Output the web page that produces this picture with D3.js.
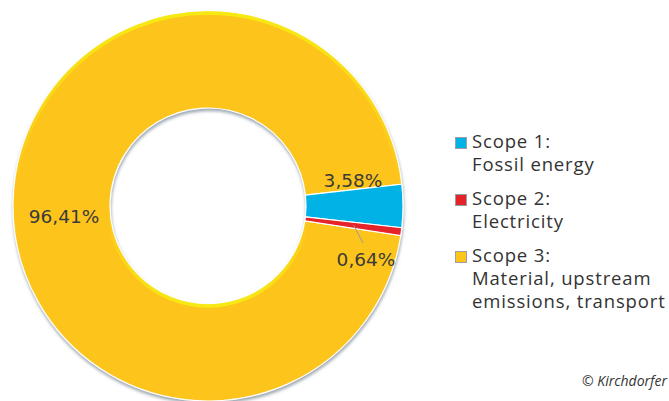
<!DOCTYPE html>
<html><head><meta charset="utf-8">
<script src="https://cdn.jsdelivr.net/npm/d3@7"></script>
<style>body{margin:0;background:#fff}svg{display:block}</style>
</head><body>
<svg id="c" width="669" height="401"></svg>
<script>
const categories = ["Scope 1: Fossil energy", "Scope 2: Electricity", "Scope 3: Material, upstream emissions, transport"];
const values = [3.58, 0.64, 96.41];
const valueLabels = ["3,58%", "0,64%", "96,41%"];
const legendLines = [["Scope 1:", "Fossil energy"], ["Scope 2:", "Electricity"], ["Scope 3:", "Material, upstream", "emissions, transport"]];
const colors = ["#00b2e6", "#e4232b", "#fdc41a"];

const svg = d3.select("#c");
const cx = 208, cy = 206, rOut = 195, rIn = 98;
const defs = svg.append("defs");
const f = defs.append("filter").attr("id","sh").attr("x","-10%").attr("y","-10%").attr("width","120%").attr("height","120%");
f.append("feDropShadow").attr("dx",0.5).attr("dy",2.5).attr("stdDeviation",1.6).attr("flood-color","#7d8a99").attr("flood-opacity",0.75);
const g1 = defs.append("linearGradient").attr("id","hiOut").attr("x1",0).attr("y1",0).attr("x2",0).attr("y2",1);
g1.append("stop").attr("offset","0%").attr("stop-color","#f6ea12").attr("stop-opacity",1);
g1.append("stop").attr("offset","45%").attr("stop-color","#f6ea12").attr("stop-opacity",0);
const g2 = defs.append("linearGradient").attr("id","hiIn").attr("x1",0).attr("y1",0).attr("x2",0).attr("y2",1);
g2.append("stop").attr("offset","55%").attr("stop-color","#f6ea12").attr("stop-opacity",0);
g2.append("stop").attr("offset","100%").attr("stop-color","#f6ea12").attr("stop-opacity",1);

const start = (90 - 6.4) * Math.PI / 180;
const pie = d3.pie().sort(null).startAngle(start).endAngle(start + 2 * Math.PI);
const arcs = pie(values);
const arc = d3.arc().innerRadius(rIn).outerRadius(rOut);

const g = svg.append("g").attr("transform", `translate(${cx},${cy})`);
const ring = g.append("g").attr("filter","url(#sh)");
ring.selectAll("path.s").data(arcs).enter().append("path").attr("class","s")
  .attr("d", arc).attr("fill", (d,i)=>colors[i]).attr("stroke","#fff").attr("stroke-width",1.2);
g.append("circle").attr("r", rOut - 2).attr("fill","none").attr("stroke","url(#hiOut)").attr("stroke-width",3.5);
g.append("circle").attr("r", rIn + 2).attr("fill","none").attr("stroke","url(#hiIn)").attr("stroke-width",3.5);
g.selectAll("path.t").data(arcs.slice(0,2)).enter().append("path").attr("class","t")
  .attr("d", arc).attr("fill", (d,i)=>colors[i]).attr("stroke","#fff").attr("stroke-width",1.2);

const labelPos = [[353, 187], [366, 266], [64, 223]];
g.selectAll("text.v").data(arcs).enter().append("text")
  .attr("x", (d,i)=>labelPos[i][0]-cx).attr("y",(d,i)=>labelPos[i][1]-cy)
  .attr("text-anchor","middle").attr("font-family","DejaVu Sans, Verdana, sans-serif")
  .attr("font-size",18.5).attr("fill","#3a3a3a").text((d,i)=>valueLabels[i]);
const p0 = d3.arc().innerRadius(rOut-48).outerRadius(rOut-48).centroid(arcs[1]);
g.append("line").attr("x1",p0[0]).attr("y1",p0[1]).attr("x2",363-cx).attr("y2",243-cy)
  .attr("stroke","#9a9a9a").attr("stroke-width",1);

const lg = svg.append("g");
const entryY = [148, 205, 262];
legendLines.forEach((lines, i) => {
  lg.append("rect").attr("x",455.5).attr("y",entryY[i]-10.5).attr("width",11).attr("height",11)
    .attr("fill",colors[i]).attr("stroke","#9aa0a6").attr("stroke-width",1);
  lines.forEach((t, j) => {
    lg.append("text").attr("x",472).attr("y",entryY[i] + j*23)
      .attr("font-family","Open Sans, sans-serif").attr("font-size",18.5).attr("letter-spacing",0.85).attr("fill","#333")
      .text(t);
  });
});
svg.append("text").attr("x",667).attr("y",386).attr("text-anchor","end")
  .attr("font-family","Open Sans, sans-serif").attr("font-style","italic").attr("font-size",14).attr("fill","#333")
  .text("© Kirchdorfer");
</script>
</body></html>
